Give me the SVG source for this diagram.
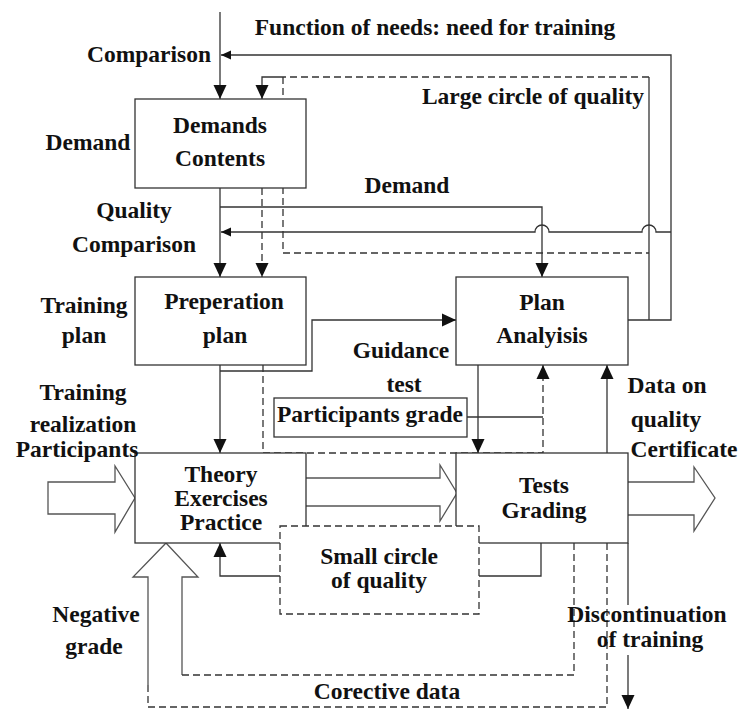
<svg xmlns="http://www.w3.org/2000/svg" width="738" height="710" viewBox="0 0 738 710">
<defs>
<marker id="ah" markerUnits="userSpaceOnUse" markerWidth="14" markerHeight="14" refX="14" refY="6.5" orient="auto" viewBox="0 0 14 13">
<path d="M0,0 L14,6.5 L0,13 Z" fill="#111"/>
</marker>
<marker id="ahs" markerUnits="userSpaceOnUse" markerWidth="10" markerHeight="10" refX="10" refY="4.5" orient="auto" viewBox="0 0 10 9">
<path d="M0,0 L10,4.5 L0,9 Z" fill="#111"/>
</marker>
</defs>
<style>
.ln{fill:none;stroke:#333;stroke-width:1.3}
.ds{fill:none;stroke:#333;stroke-width:1.3;stroke-dasharray:7,4}
.bx{fill:#fff;stroke:#333;stroke-width:1.3}
.dbx{fill:#fff;stroke:#333;stroke-width:1.3;stroke-dasharray:7,4}
.ha{fill:none;stroke:#555;stroke-width:1.3;stroke-linejoin:miter}
text{font-family:"Liberation Serif","Times New Roman",serif;font-weight:bold;font-size:23.5px;fill:#111;text-anchor:middle}
</style>
<rect width="738" height="710" fill="#fff"/>
<g id="connectors">
<path class="ln" d="M220,12 V99" marker-end="url(#ah)"/>
<path class="ln" d="M628,320 H671 V55 H221" marker-end="url(#ahs)"/>
<path class="ln" d="M649,320 V77"/>
<path class="ds" d="M649,77 H283"/>
<path class="ln" d="M283,77 H262 V99" marker-end="url(#ah)"/>
<path class="ds" d="M283,77 V253 H649"/>
<path class="ln" d="M220,188 V277" marker-end="url(#ah)"/>
<path class="ln" d="M220,207 H542 V277" marker-end="url(#ah)"/>
<path class="ln" d="M671,232 H656 A7,7 0 0 0 642,232 H549 A7,7 0 0 0 535,232 H221" marker-end="url(#ahs)"/>
<path class="ds" d="M262,188 V277" marker-end="url(#ah)"/>
<path class="ln" d="M220,365 V453" marker-end="url(#ah)"/>
<path class="ln" d="M220,371 H312 V320 H456" marker-end="url(#ah)"/>
<path class="ds" d="M263,365 V453 H543 V365" marker-end="url(#ah)"/>
<path class="ln" d="M467,417 H543"/>
<path class="ln" d="M478,365 V453" marker-end="url(#ah)"/>
<path class="ln" d="M607,453 V365" marker-end="url(#ah)"/>
<path class="ha" d="M135,498 L115,466 V482 H48 V514 H115 V532 Z"/>
<path class="ha" d="M306,478 H440 V465 L457,493 L440,521 V506 H306"/>
<path class="ha" d="M628,482 H694 V467 L715,498 L694,531 V515 H628"/>
<path class="ha" d="M148,685 V577 H133 L166,543 L198,577 H182 V675"/>
<path class="ds" d="M148,685 V707 H607 V543"/>
<path class="ds" d="M182,675 H574 V543"/>
<path class="ln" d="M541,543 V576 H479"/>
<path class="ln" d="M280,576 H220 V543" marker-end="url(#ah)"/>
<path class="ln" d="M628,543 V605"/>
<path class="ln" d="M628,655 V709" marker-end="url(#ah)"/>
</g>
<g id="demands">
<rect class="bx" x="135" y="99" width="171" height="89"/>
<text x="220" y="133">Demands</text>
<text x="220" y="166">Contents</text>
</g>
<g id="preperation">
<rect class="bx" x="135" y="277" width="171" height="88"/>
<text x="224" y="309">Preperation</text>
<text x="225" y="343">plan</text>
</g>
<g id="plan-analysis">
<rect class="bx" x="456" y="277" width="172" height="88"/>
<text x="542" y="310">Plan</text>
<text x="542" y="343">Analyisis</text>
</g>
<g id="participants-grade">
<rect class="bx" x="274" y="398" width="193" height="39"/>
<text x="370" y="422">Participants grade</text>
</g>
<g id="theory">
<rect class="bx" x="135" y="453" width="171" height="90"/>
<text x="221" y="482">Theory</text>
<text x="221" y="506">Exercises</text>
<text x="221" y="530">Practice</text>
</g>
<g id="tests">
<rect class="bx" x="456" y="453" width="172" height="90"/>
<text x="544" y="493">Tests</text>
<text x="544" y="518">Grading</text>
</g>
<g id="small-circle">
<rect class="dbx" x="280" y="526" width="199" height="88"/>
<text x="379" y="564">Small circle</text>
<text x="379" y="588">of quality</text>
</g>
<g id="labels">
<text x="435" y="35">Function of needs: need for training</text>
<text x="149" y="62">Comparison</text>
<text x="533" y="104">Large circle of quality</text>
<text x="88" y="150">Demand</text>
<text x="407" y="193">Demand</text>
<text x="134" y="218">Quality</text>
<text x="134" y="252">Comparison</text>
<text x="84" y="313">Training</text>
<text x="84" y="343">plan</text>
<text x="401" y="358">Guidance</text>
<text x="404" y="392">test</text>
<text x="83" y="400">Training</text>
<text x="83" y="432">realization</text>
<text x="77" y="457">Participants</text>
<text x="667" y="393">Data on</text>
<text x="666" y="427">quality</text>
<text x="684" y="457">Certificate</text>
<text x="96" y="622">Negative</text>
<text x="94" y="654">grade</text>
<text x="647" y="622">Discontinuation</text>
<text x="650" y="647">of training</text>
<text x="387" y="699">Corective data</text>
</g>
</svg>
